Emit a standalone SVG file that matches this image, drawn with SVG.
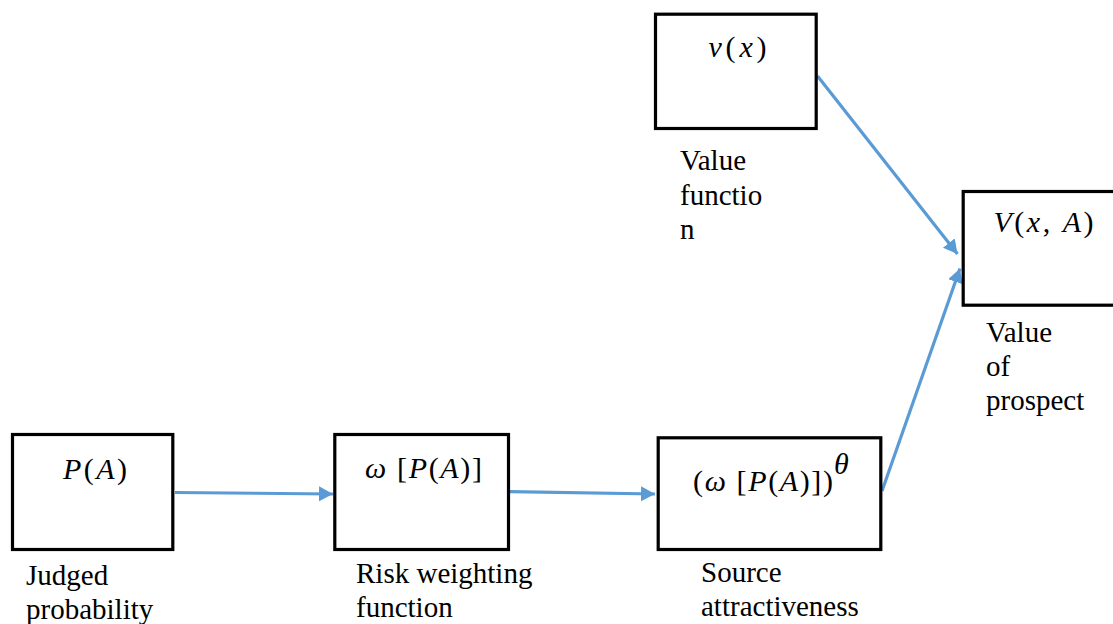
<svg xmlns="http://www.w3.org/2000/svg" width="1113" height="624" viewBox="0 0 1113 624">
<style>
.box{fill:#fff;stroke:#000;stroke-width:3.2}
.conn{fill:none;stroke:#5B9BD5;stroke-width:3.2}
.lbl{font-size:29px;fill:#000}
.math{font-size:30px;fill:#000}
.it{font-style:italic}
</style>
<defs>
<marker id="arr" markerUnits="userSpaceOnUse" markerWidth="16" markerHeight="16" refX="14" refY="7.5" orient="auto">
<path d="M0,0 L14,7.5 L0,15 Z" fill="#5B9BD5"/>
</marker>
</defs>
<rect width="1113" height="624" fill="#fff"/>
<g font-family="'Liberation Serif', 'Times New Roman', 'DejaVu Serif', serif">
<g id="connectors">
<path class="conn" d="M175,492.5 L333,494" marker-end="url(#arr)"/>
<path class="conn" d="M510,491.7 L655,494" marker-end="url(#arr)"/>
<path class="conn" d="M817.5,76 L957.5,254" marker-end="url(#arr)"/>
<path class="conn" d="M882,491 L960,268.5" marker-end="url(#arr)"/>
</g>
<g id="node-judged">
<rect class="box" x="12.5" y="434.5" width="160.3" height="115"/>
<text class="math" x="63" y="478.5" textLength="64" lengthAdjust="spacing"><tspan class="it">P</tspan>(<tspan class="it">A</tspan>)</text>
<text class="lbl" x="26" y="585">Judged</text>
<text class="lbl" x="26" y="618.5">probability</text>
</g>
<g id="node-risk">
<rect class="box" x="334.8" y="434.5" width="173.7" height="115"/>
<text class="math" x="365" y="478" textLength="117" lengthAdjust="spacing"><tspan class="it">ω</tspan> [<tspan class="it">P</tspan>(<tspan class="it">A</tspan>)]</text>
<text class="lbl" x="356" y="583.3">Risk weighting</text>
<text class="lbl" x="356" y="617">function</text>
</g>
<g id="node-source">
<rect class="box" x="658.2" y="437.8" width="222.6" height="111.7"/>
<text class="math" x="693" y="490.5" textLength="140" lengthAdjust="spacing">(<tspan class="it">ω</tspan> [<tspan class="it">P</tspan>(<tspan class="it">A</tspan>)])</text>
<text class="math it" x="834" y="474" font-size="22">θ</text>
<text class="lbl" x="701" y="582.3">Source</text>
<text class="lbl" x="701" y="615.7">attractiveness</text>
</g>
<g id="node-value-function">
<rect class="box" x="655.5" y="14.2" width="160.7" height="114.3"/>
<text class="math" x="708.5" y="57" textLength="58" lengthAdjust="spacing"><tspan class="it">v</tspan>(<tspan class="it">x</tspan>)</text>
<text class="lbl" x="680" y="170">Value</text>
<text class="lbl" x="680" y="205">functio</text>
<text class="lbl" x="680" y="239">n</text>
</g>
<g id="node-prospect">
<rect class="box" x="963.2" y="191.5" width="200" height="113.7"/>
<text class="math" x="993.5" y="231.5" textLength="100" lengthAdjust="spacing"><tspan class="it">V</tspan>(<tspan class="it">x</tspan>, <tspan class="it">A</tspan>)</text>
<text class="lbl" x="986" y="341.7">Value</text>
<text class="lbl" x="986" y="375.5">of</text>
<text class="lbl" x="986" y="410">prospect</text>
</g>
</g>
</svg>
